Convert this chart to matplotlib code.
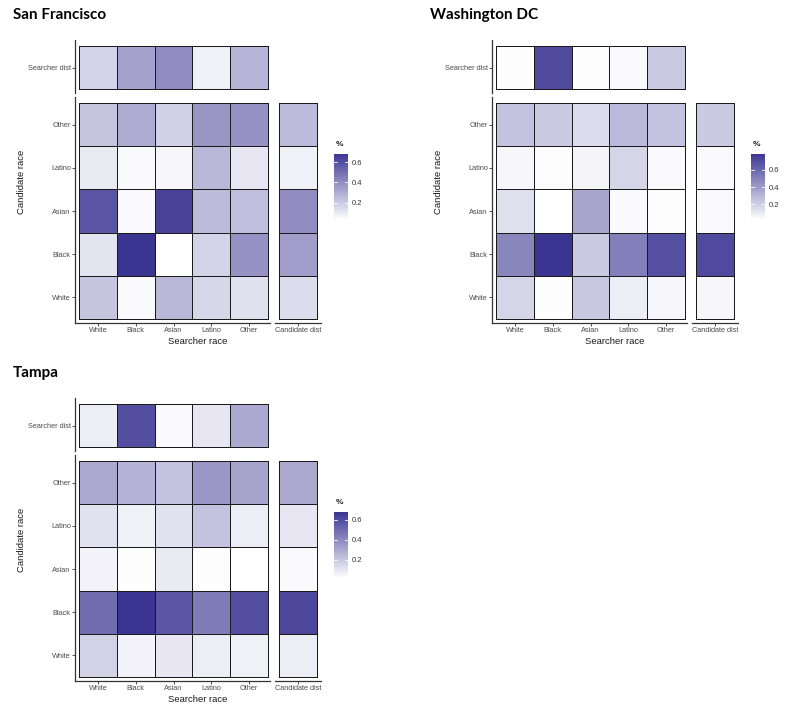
import numpy as np
import matplotlib
matplotlib.use("Agg")
import matplotlib.pyplot as plt
from matplotlib.colors import LinearSegmentedColormap, Normalize

# ---------------- data ----------------
searcher_races = ["White", "Black", "Asian", "Latino", "Other"]
candidate_rows = ["Other", "Latino", "Asian", "Black", "White"]  # top to bottom
cities = ["San Francisco", "Washington DC", "Tampa"]

sf_searcher = [0.17, 0.33, 0.40, 0.08, 0.27]
sf_matrix = [
    [0.22, 0.30, 0.18, 0.37, 0.38],   # Other
    [0.10, 0.05, 0.06, 0.26, 0.11],   # Latino
    [0.58, 0.05, 0.64, 0.25, 0.24],   # Asian
    [0.12, 0.68, 0.03, 0.17, 0.38],   # Black
    [0.22, 0.05, 0.26, 0.16, 0.13],   # White
]
sf_candidate = [0.25, 0.08, 0.40, 0.34, 0.14]

dc_searcher = [0.03, 0.70, 0.03, 0.04, 0.22]
dc_matrix = [
    [0.25, 0.22, 0.15, 0.28, 0.25],
    [0.05, 0.03, 0.06, 0.18, 0.04],
    [0.14, 0.02, 0.36, 0.04, 0.03],
    [0.48, 0.78, 0.22, 0.50, 0.68],
    [0.18, 0.03, 0.23, 0.09, 0.05],
]
dc_candidate = [0.22, 0.04, 0.04, 0.70, 0.05]

tp_searcher = [0.08, 0.60, 0.04, 0.10, 0.30]
tp_matrix = [
    [0.30, 0.27, 0.22, 0.36, 0.32],
    [0.12, 0.07, 0.12, 0.22, 0.08],
    [0.06, 0.03, 0.09, 0.03, 0.02],
    [0.50, 0.68, 0.57, 0.45, 0.60],
    [0.17, 0.06, 0.10, 0.08, 0.07],
]
tp_candidate = [0.30, 0.10, 0.04, 0.62, 0.08]

cbar_ticks = [0.2, 0.4, 0.6]

# ---------------- style ----------------
W, H = 800, 712
fig = plt.figure(figsize=(W / 100, H / 100), dpi=100)
fig.patch.set_facecolor("white")
cmap = LinearSegmentedColormap.from_list("wp", ["#ffffff", "#3b3592"])
TICK_FONT = "Liberation Sans"
TITLE_FONT = ["Lato", "DejaVu Sans"]
EDGE = "#1a1a1a"
SPINE = "#333333"


def ax_px(x0, y0, x1, y1):
    return fig.add_axes([x0 / W, 1 - y1 / H, (x1 - x0) / W, (y1 - y0) / H])


def style(ax, show_left, show_bottom):
    for s in ax.spines.values():
        s.set_visible(False)
    ax.spines["left"].set_visible(show_left)
    ax.spines["bottom"].set_visible(show_bottom)
    for s in ("left", "bottom"):
        ax.spines[s].set_color(SPINE)
        ax.spines[s].set_linewidth(0.9)
    ax.tick_params(length=2, width=0.6, color=SPINE, labelsize=5.3,
                   labelcolor="#4d4d4d", pad=1)
    for lab in ax.get_xticklabels() + ax.get_yticklabels():
        lab.set_fontfamily(TICK_FONT)


def panel(dx, dy, title, searcher, matrix, candidate):
    allvals = np.concatenate([np.ravel(searcher), np.ravel(matrix), np.ravel(candidate)])
    norm = Normalize(vmin=allvals.min(), vmax=allvals.max())
    mat = np.flipud(np.array(matrix))          # bottom row = White
    cand = np.flipud(np.array(candidate)).reshape(-1, 1)

    # title
    fig.text((13 + dx) / W, 1 - (15 + dy) / H, title, fontsize=11, fontweight="bold",
             family=TITLE_FONT, ha="left", va="center", color="black")

    # searcher distribution row
    ax_s = ax_px(75 + dx, 40 + dy, 270 + dx, 93 + dy)
    ax_s.pcolormesh(np.arange(6), np.arange(2), np.array(searcher).reshape(1, -1),
                    cmap=cmap, norm=norm, edgecolors=EDGE, linewidth=0.7)
    ax_s.set_xlim(-0.106, 5.05)
    ax_s.set_ylim(-0.093, 1.14)
    ax_s.set_xticks([])
    ax_s.set_yticks([0.5])
    ax_s.set_yticklabels(["Searcher dist"])
    style(ax_s, True, False)

    # main matrix
    ax_m = ax_px(75 + dx, 97 + dy, 270 + dx, 323 + dy)
    ax_m.pcolormesh(np.arange(6), np.arange(6), mat, cmap=cmap, norm=norm,
                    edgecolors=EDGE, linewidth=0.7)
    ax_m.set_xlim(-0.106, 5.05)
    ax_m.set_ylim(-0.093, 5.14)
    ax_m.set_xticks(np.arange(5) + 0.5)
    ax_m.set_xticklabels(searcher_races)
    ax_m.set_yticks(np.arange(5) + 0.5)
    ax_m.set_yticklabels(candidate_rows[::-1])
    style(ax_m, True, True)

    # candidate distribution column
    ax_c = ax_px(275 + dx, 97 + dy, 321 + dx, 323 + dy)
    ax_c.pcolormesh(np.arange(2), np.arange(6), cand, cmap=cmap, norm=norm,
                    edgecolors=EDGE, linewidth=0.7)
    ax_c.set_xlim(-0.105, 1.105)
    ax_c.set_ylim(-0.093, 5.14)
    ax_c.set_xticks([0.5])
    ax_c.set_xticklabels(["Candidate dist"])
    ax_c.set_yticks([])
    style(ax_c, False, True)

    # axis titles
    fig.text((22 + dx) / W, 1 - (182 + dy) / H, "Candidate race", rotation=90,
             fontsize=6.8, family=TICK_FONT, ha="center", va="center", color="#1a1a1a")
    fig.text((198 + dx) / W, 1 - (341 + dy) / H, "Searcher race",
             fontsize=6.8, family=TICK_FONT, ha="center", va="center", color="#1a1a1a")

    # colour bar
    cax = ax_px(334 + dx, 154 + dy, 348 + dx, 220 + dy)
    grad = np.linspace(norm.vmin, norm.vmax, 200).reshape(-1, 1)
    cax.imshow(grad, cmap=cmap, norm=norm, aspect="auto", origin="lower",
               extent=[0, 1, norm.vmin, norm.vmax])
    cax.set_xlim(0, 1)
    cax.set_ylim(norm.vmin, norm.vmax)
    for t in cbar_ticks:
        cax.plot([0, 0.2], [t, t], color="white", lw=0.6)
        cax.plot([0.8, 1], [t, t], color="white", lw=0.6)
    cax.set_xticks([])
    cax.yaxis.tick_right()
    cax.set_yticks(cbar_ticks)
    cax.set_yticklabels([f"{t:.1f}" for t in cbar_ticks])
    cax.tick_params(length=0, labelsize=5.5, labelcolor="#333333", pad=3)
    for lab in cax.get_yticklabels():
        lab.set_fontfamily(TICK_FONT)
    for s in cax.spines.values():
        s.set_visible(False)
    fig.text((336 + dx) / W, 1 - (145 + dy) / H, "%", fontsize=6, fontweight="bold",
             family=TICK_FONT, ha="left", va="center", color="#1a1a1a")


panel(0, 0, cities[0], sf_searcher, sf_matrix, sf_candidate)
panel(417, 0, cities[1], dc_searcher, dc_matrix, dc_candidate)
panel(0, 358, cities[2], tp_searcher, tp_matrix, tp_candidate)

fig.savefig("out.png", dpi=100, facecolor="white")
